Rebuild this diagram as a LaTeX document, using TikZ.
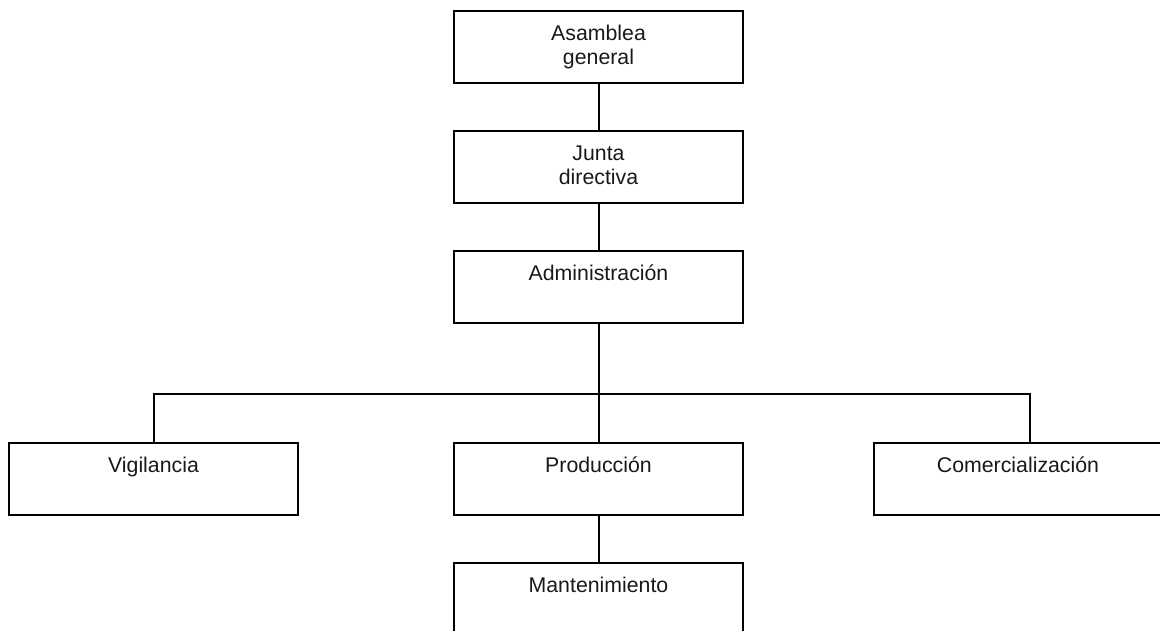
\documentclass[tikz,border=0pt]{standalone}
\usepackage{fontspec}
\setmainfont{Liberation Sans}
\begin{document}
\begin{tikzpicture}[x=1pt,y=-1pt,
  box/.style={draw=black, line width=2pt, minimum width=289pt, minimum height=72pt, inner sep=0pt, anchor=north},
  txt/.style={font=\fontsize{21.3}{24}\selectfont, text=black!90, anchor=base, inner sep=0pt, align=center},
  conn/.style={draw=black, line width=2pt}]
\useasboundingbox (0,0) rectangle (1160,630);
\clip (0,0) rectangle (1160,630);
% boxes
\node[box] (asm) at (598.5,10) {};
\node[box] (jun) at (598.5,130) {};
\node[box] (adm) at (598.5,250) {};
\node[box] (vig) at (153.5,442) {};
\node[box] (pro) at (598.5,442) {};
\node[box] (com) at (1018,442) {};
\node[box] (man) at (598.5,562) {};
% texts (two-line texts are anchored on their last line)
\node[txt] (tasm) at ([yshift=-54.5pt]asm.north) {Asamblea\\general};
\node[txt] (tjun) at ([yshift=-54.5pt]jun.north) {Junta\\directiva};
\node[txt] (tadm) at ([yshift=-30.5pt]adm.north) {Administración};
\node[txt] (tvig) at ([yshift=-30.5pt]vig.north) {Vigilancia};
\node[txt] (tpro) at ([yshift=-30.5pt]pro.north) {Producción};
\node[txt] (tcom) at ([yshift=-30.5pt]com.north) {Comercialización};
\node[txt] (tman) at ([yshift=-30.5pt]man.north) {Mantenimiento};
% connectors
\coordinate (bus) at (598.5,394);
\draw[conn] (asm.south) -- (jun.north);
\draw[conn] (jun.south) -- (adm.north);
\draw[conn] (adm.south) -- (bus);
\draw[conn] (vig.north) |- (bus) -| ([xshift=12pt]com.north);
\draw[conn] (bus) -- (pro.north);
\draw[conn] (pro.south) -- (man.north);
\end{tikzpicture}
\end{document}
